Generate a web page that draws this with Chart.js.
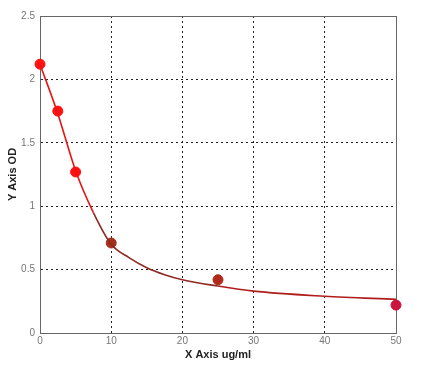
<!DOCTYPE html>
<html>
<head>
<meta charset="utf-8">
<script src="https://cdn.jsdelivr.net/npm/chart.js@4"></script>
<style>
  html, body { margin: 0; padding: 0; background: #fff; }
  #wrap { width: 425px; height: 371px; }
</style>
</head>
<body>
<div id="wrap"><canvas id="std-chart" width="425" height="371"></canvas></div>
<script>
// Standard points (concentration ug/ml vs OD)
const concentrations = [0, 2.5, 5, 10, 25, 50];
const odValues = [2.12, 1.75, 1.27, 0.71, 0.42, 0.22];
const pointColors = ['#ff1111', '#ff1111', '#ff1111', '#a3301c', '#b02a1c', '#cc1440'];

// Fitted curve
const curveX = [0, 2.5, 5, 7.5, 10, 12.5, 15, 17.5, 20, 25, 30, 40, 50];
const curveY = [2.12, 1.73, 1.28, 0.95, 0.70, 0.595, 0.515, 0.46, 0.42, 0.37, 0.33, 0.29, 0.265];

const xTicks = [0, 10, 20, 30, 40, 50];
const yTicks = [0, 0.5, 1, 1.5, 2, 2.5];

const ctx = document.getElementById('std-chart').getContext('2d');

// frame round the plot area (top + right edges)
const frame = {
    id: 'frame',
    beforeDatasetsDraw(chart) {
        const a = chart.chartArea;
        const c = chart.ctx;
        c.save();
        c.strokeStyle = '#666';
        c.lineWidth = 1;
        c.strokeRect(a.left + 0.5, a.top + 0.5, a.right - a.left, a.bottom - a.top);
        c.restore();
    }
};

const dotted = {
    color: '#222',
    lineWidth: 1,
    drawTicks: false
};

new Chart(ctx, {
    type: 'scatter',
    data: {
        datasets: [
            {
                label: 'fit',
                data: curveX.map((x, i) => ({ x: x, y: curveY[i] })),
                showLine: true,
                pointRadius: 0,
                borderWidth: 1.6,
                borderColor: '#dd1111',
                cubicInterpolationMode: 'monotone',
                clip: false,
                segment: {
                    borderColor: s => s.p0DataIndex < 3 ? '#e81414' : (s.p0DataIndex < 9 ? '#8e2a22' : '#b01c1c')
                }
            },
            {
                label: 'std',
                data: concentrations.map((x, i) => ({ x: x, y: odValues[i] })),
                pointRadius: 5,
                pointBackgroundColor: pointColors,
                pointBorderColor: pointColors,
                showLine: false,
                clip: false
            }
        ]
    },
    options: {
        responsive: false,
        animation: false,
        layout: { padding: { top: 16, right: 29, left: 0, bottom: 0 } },
        plugins: {
            legend: { display: false },
            tooltip: { enabled: false }
        },
        scales: {
            x: {
                type: 'linear',
                min: 0,
                max: 50,
                afterBuildTicks: ax => { ax.ticks = xTicks.map(v => ({ value: v })); },
                afterFit: ax => { ax.height = 38; },
                ticks: { color: '#777', font: { family: 'Liberation Sans', size: 10 }, padding: 2, maxRotation: 0 },
                grid: dotted,
                border: { display: true, color: '#333', dash: [2, 3] },
                title: {
                    display: true,
                    text: 'X Axis ug/ml',
                    color: '#222',
                    font: { family: 'Liberation Sans', size: 11, weight: 'bold' },
                    padding: { top: 0, bottom: 9 }
                }
            },
            y: {
                min: 0,
                max: 2.5,
                afterBuildTicks: ax => { ax.ticks = yTicks.map(v => ({ value: v })); },
                afterFit: ax => { ax.width = 40; },
                ticks: {
                    color: '#777',
                    font: { family: 'Liberation Sans', size: 10 },
                    padding: 5,
                    callback: v => String(v)
                },
                grid: dotted,
                border: { display: true, color: '#333', dash: [2, 3] },
                title: {
                    display: true,
                    text: 'Y Axis OD',
                    color: '#222',
                    font: { family: 'Liberation Sans', size: 11, weight: 'bold' },
                    padding: { top: 6, bottom: 0 }
                }
            }
        }
    },
    plugins: [frame]
});
</script>
</body>
</html>
